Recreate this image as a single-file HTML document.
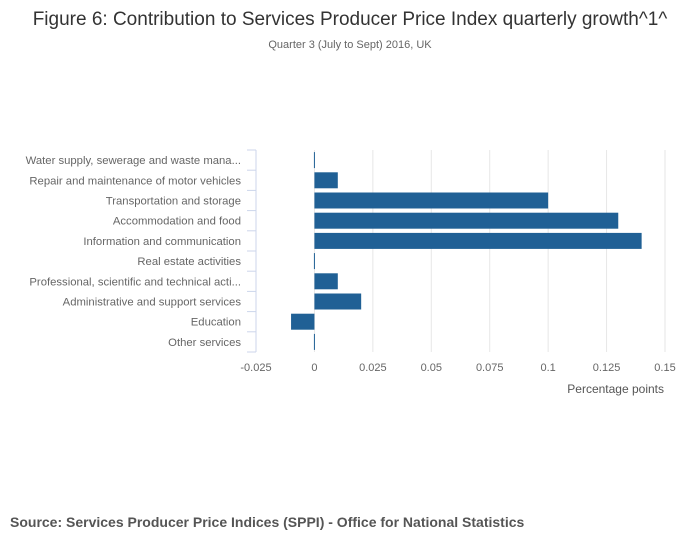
<!DOCTYPE html>
<html><head><meta charset="utf-8"><style>
body{margin:0;background:#fff;font-family:"Liberation Sans",sans-serif;}
svg text{font-family:"Liberation Sans",sans-serif;}
</style></head><body>
<svg width="700" height="549">
<text x="350" y="25" text-anchor="middle" font-size="19" fill="#333">Figure 6: Contribution to Services Producer Price Index quarterly growth^1^</text>
<text x="350" y="48" text-anchor="middle" font-size="11" fill="#666">Quarter 3 (July to Sept) 2016, UK</text>
<g id="plot"></g>
<text x="664" y="393" text-anchor="end" font-size="12" fill="#555">Percentage points</text>
<text x="10" y="527" font-size="14" font-weight="bold" fill="#555">Source: Services Producer Price Indices (SPPI) - Office for National Statistics</text>
</svg>
<script>
const categories=["Water supply, sewerage and waste mana...","Repair and maintenance of motor vehicles","Transportation and storage","Accommodation and food","Information and communication","Real estate activities","Professional, scientific and technical acti...","Administrative and support services","Education","Other services"];
const values=[0,0.01,0.1,0.13,0.14,0,0.01,0.02,-0.01,0];
const ticks=[-0.025,0,0.025,0.05,0.075,0.1,0.125,0.15];
const tickLabels=["-0.025","0","0.025","0.05","0.075","0.1","0.125","0.15"];
(function(){
const ns="http://www.w3.org/2000/svg";
const g=document.getElementById('plot');
const x0=256,x1=665,vmin=-0.025,vmax=0.15,pTop=150,pBot=352;
const xs=v=>x0+(v-vmin)/(vmax-vmin)*(x1-x0);
const rowH=(pBot-pTop)/categories.length;
function mk(t,a){const e=document.createElementNS(ns,t);for(const k in a)e.setAttribute(k,a[k]);g.appendChild(e);return e;}
ticks.forEach((t,i)=>{
 if(i>0){const l=mk('line',{x1:xs(t),x2:xs(t),y1:pTop,y2:pBot,stroke:'#e6e6e6'});
 
 }
 const tx=mk('text',{x:xs(t),y:371,'text-anchor':'middle','font-size':11,fill:'#666'});tx.textContent=tickLabels[i];
 
 
});
const ax=mk('line',{x1:x0,x2:x0,y1:pTop,y2:pBot,stroke:'#ccd6eb'});


for(let i=0;i<=categories.length;i++){const y=pTop+i*rowH;const tk=mk('line',{x1:x0-9,x2:x0,y1:y,y2:y,stroke:'#ccd6eb'});
 
 }
categories.forEach((c,i)=>{
 const yc=pTop+(i+0.5)*rowH;
 const t=mk('text',{x:241,y:yc+4,'text-anchor':'end','font-size':11.3,fill:'#666'});t.textContent=c;
 
 
 const v=values[i];let a=xs(Math.min(0,v)),b=xs(Math.max(0,v));if(b-a<1){b=a+1;a-=0.5;b-=0.5;}
 const r=mk('rect',{x:a,y:yc-8,width:b-a,height:16,fill:'#206095'});
 
 
});
})();
</script>
</body></html>
